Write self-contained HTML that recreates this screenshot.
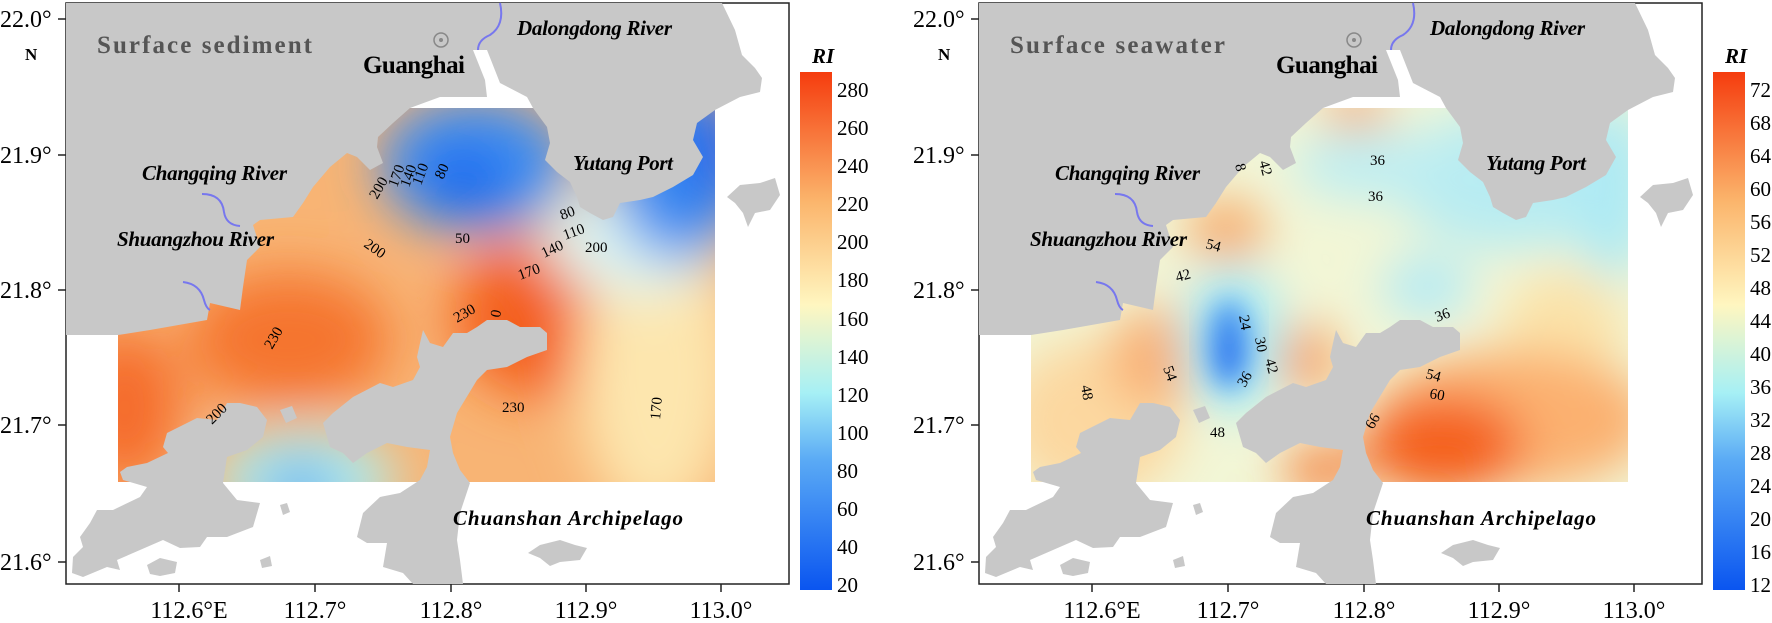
<!DOCTYPE html>
<html><head><meta charset="utf-8"><style>
body{margin:0;background:#fff}
svg{display:block;font-family:"Liberation Serif",serif}
.t{font-size:24px}
.it{font-style:italic;font-weight:bold;font-size:21px}
.b{font-weight:bold;font-size:25px}
.c{font-size:15px}
.cb{font-size:21px}
</style></head><body>
<svg width="1772" height="623" viewBox="0 0 1772 623" xmlns="http://www.w3.org/2000/svg">
<defs>
<filter id="bl" x="-30%" y="-30%" width="160%" height="160%"><feGaussianBlur stdDeviation="24"/></filter>
<filter id="bl2" x="-50%" y="-50%" width="200%" height="200%"><feGaussianBlur stdDeviation="14"/></filter>
<clipPath id="dr"><rect x="118" y="108" width="597" height="374"/></clipPath>
<linearGradient id="cb1" x1="0" y1="1" x2="0" y2="0">
<stop offset="0" stop-color="#0a55f0"/><stop offset="0.25" stop-color="#5aaaf5"/><stop offset="0.38" stop-color="#a6f0f5"/><stop offset="0.55" stop-color="#fff6c0"/><stop offset="0.75" stop-color="#fbb56c"/><stop offset="1" stop-color="#f53c0e"/></linearGradient>
<g id="land" fill="#c8c8c8">
<path d="M66,3 L722,3 L735,30 L742,55 L755,68 L762,78 L760,92 L740,97 L715,110 L697,123 L693,140 L703,157 L693,175 L673,187 L653,197 L640,200 L620,203 L613,217 L603,220 L590,213 L580,207 L577,197 L570,182 L557,172 L545,160 L550,143 L547,127 L533,108 L527,97 L500,83 L487,50 L473,50 L485,80 L487,97 L440,97 L410,108 L393,123 L378,137 L377,147 L383,163 L370,170 L357,157 L347,153 L330,167 L313,187 L303,203 L293,217 L260,220 L253,225 L260,247 L247,260 L243,287 L240,310 L210,303 L207,320 L150,330 L118,335 L66,335 Z"/>
<path d="M727,197 L740,185 L760,183 L775,178 L780,195 L770,210 L755,213 L748,227 L743,213 L735,203 Z"/>
<path d="M423,330 L420,343 L417,357 L420,367 L413,380 L393,387 L380,383 L353,397 L333,413 L323,423 L330,447 L343,453 L353,463 L367,453 L387,443 L407,447 L430,450 L427,467 L420,480 L400,493 L380,497 L363,513 L357,537 L367,543 L387,543 L383,567 L403,573 L413,584 L463,584 L460,560 L457,540 L460,513 L470,483 L460,470 L453,453 L450,437 L457,413 L477,380 L487,370 L507,367 L527,357 L547,350 L547,333 L540,327 L520,327 L507,320 L487,320 L477,327 L467,333 L453,333 L443,347 L430,343 Z"/>
<path d="M227,403 L217,420 L197,418 L167,433 L163,447 L168,453 L147,463 L127,467 L120,472 L123,480 L147,487 L140,497 L113,510 L97,510 L90,523 L80,537 L83,547 L73,557 L72,573 L83,577 L107,567 L120,570 L117,560 L140,550 L163,540 L180,548 L200,547 L207,537 L227,537 L253,527 L260,503 L237,500 L223,483 L227,457 L247,450 L263,437 L267,420 L257,407 L240,403 Z"/>
<path d="M147,565 L160,558 L177,562 L175,573 L160,576 L150,574 Z"/>
<path d="M280,505 L287,503 L290,512 L283,515 Z"/>
<path d="M280,410 L292,406 L297,418 L286,423 Z"/>
<path d="M260,560 L270,556 L272,566 L262,568 Z"/>
<path d="M528,553 L540,545 L560,540 L575,545 L587,548 L580,560 L560,562 L550,566 L540,558 Z"/>
</g>
<g id="deco" fill="none">
<path d="M500,3 Q505,25 490,35 Q478,40 478,50" stroke="#7777ee" stroke-width="2"/>
<path d="M202,194 Q222,194 224,212 Q226,225 240,226" stroke="#7777ee" stroke-width="2"/>
<path d="M183,282 Q200,284 204,300 Q206,308 210,310" stroke="#7777ee" stroke-width="2"/>
<circle cx="441" cy="40" r="7" stroke="#888" stroke-width="1.5"/><circle cx="441" cy="40" r="2" fill="#888"/>
</g>
</defs>

<!-- LEFT PANEL -->
<rect x="66" y="3" width="723" height="581" fill="#fff" stroke="#222" stroke-width="1.5"/>
<g clip-path="url(#dr)">
<rect x="118" y="108" width="597" height="374" fill="#f8b474"/>
<g filter="url(#bl)" transform="scale(1.1325)">
<ellipse cx="255" cy="300" rx="90" ry="60" fill="#f5742e"/>
<ellipse cx="480" cy="280" rx="80" ry="70" fill="#f45e1c"/>
<ellipse cx="110" cy="360" rx="50" ry="70" fill="#f56c2a"/>
<ellipse cx="580" cy="330" rx="70" ry="130" fill="#fde6ae"/>
<ellipse cx="560" cy="210" rx="80" ry="50" fill="#dff6f0"/>
<ellipse cx="420" cy="145" rx="85" ry="60" fill="#3d8ef2"/>
<ellipse cx="410" cy="160" rx="40" ry="30" fill="#1466ee"/>
<ellipse cx="600" cy="150" rx="60" ry="80" fill="#3b8bf0"/>
<ellipse cx="630" cy="130" rx="25" ry="50" fill="#1a5ff0"/>
<ellipse cx="270" cy="425" rx="80" ry="45" fill="#aef0f2"/>
<ellipse cx="265" cy="432" rx="35" ry="20" fill="#4a9af2"/>
</g>
</g>
<use href="#land"/>
<use href="#deco"/>
<text x="97" y="53" class="b" fill="#555" textLength="215">Surface sediment</text>
<text x="363" y="73" class="b" textLength="102">Guanghai</text>
<text x="517" y="35" class="it" textLength="155">Dalongdong River</text>
<text x="573" y="170" class="it" textLength="100">Yutang Port</text>
<text x="142" y="180" class="it" textLength="145">Changqing River</text>
<text x="117" y="246" class="it" textLength="157">Shuangzhou River</text>
<text x="453" y="525" class="it" textLength="230">Chuanshan Archipelago</text>
<g class="c">
<text transform="translate(377,200) rotate(-60)">200</text>
<text transform="translate(397,188) rotate(-70)">170</text>
<text transform="translate(409,188) rotate(-70)">140</text>
<text transform="translate(421,186) rotate(-70)">110</text>
<text transform="translate(443,180) rotate(-65)">80</text>
<text transform="translate(363,246) rotate(35)">200</text>
<text x="455" y="243">50</text>
<text x="562" y="220" transform="rotate(-20,562,220)">80</text>
<text x="565" y="240" transform="rotate(-20,565,240)">110</text>
<text x="544" y="258" transform="rotate(-25,544,258)">140</text>
<text x="520" y="280" transform="rotate(-20,520,280)">170</text>
<text x="585" y="252">200</text>
<text transform="translate(272,350) rotate(-60)">230</text>
<text transform="translate(457,323) rotate(-30)">230</text>
<text x="500" y="318" transform="rotate(-80,500,318)">0</text>
<text x="502" y="412">230</text>
<text transform="translate(660,420) rotate(-85)">170</text>
<text transform="translate(212,425) rotate(-45)">200</text>
</g>
<g class="t">
<text x="0" y="27">22.0°</text><text x="25" y="60" font-size="17" font-weight="bold">N</text>
<text x="0" y="163">21.9°</text><text x="0" y="298">21.8°</text>
<text x="0" y="433">21.7°</text><text x="0" y="570">21.6°</text>
<text x="189" y="618" text-anchor="middle">112.6°E</text><text x="315" y="618" text-anchor="middle">112.7°</text>
<text x="451" y="618" text-anchor="middle">112.8°</text><text x="586" y="618" text-anchor="middle">112.9°</text>
<text x="721" y="618" text-anchor="middle">113.0°</text>
</g>
<g stroke="#222" stroke-width="1.5">
<path d="M66,19h-8M66,155h-8M66,290h-8M66,425h-8M66,562h-8M179,584v8M315,584v8M451,584v8M586,584v8M721,584v8"/>
</g>
<rect x="800" y="72" width="32" height="518" fill="url(#cb1)"/>
<text x="812" y="63" class="it" font-size="22">RI</text>
<g class="cb">
<text x="837" y="97">280</text><text x="837" y="135">260</text><text x="837" y="173">240</text><text x="837" y="211">220</text>
<text x="837" y="249">200</text><text x="837" y="287">180</text><text x="837" y="326">160</text><text x="837" y="364">140</text>
<text x="837" y="402">120</text><text x="837" y="440">100</text><text x="837" y="478">80</text><text x="837" y="516">60</text>
<text x="837" y="554">40</text><text x="837" y="592">20</text>
</g>

<!-- RIGHT PANEL -->
<g transform="translate(913,0)">
<rect x="66" y="3" width="723" height="581" fill="#fff" stroke="#222" stroke-width="1.5"/>
<g clip-path="url(#dr)">
<rect x="118" y="108" width="597" height="374" fill="#f2f6d6"/>
<g filter="url(#bl)">
<ellipse cx="180" cy="420" rx="90" ry="80" fill="#fcd8a0"/>
<ellipse cx="600" cy="180" rx="120" ry="70" fill="#b8ecf2"/>
<ellipse cx="700" cy="190" rx="40" ry="90" fill="#aeeaf4"/>
<ellipse cx="460" cy="165" rx="80" ry="35" fill="#bfeef2"/>
<ellipse cx="514" cy="287" rx="45" ry="30" fill="#b2eaf6"/>
<ellipse cx="650" cy="330" rx="60" ry="60" fill="#fbe2a8"/>
<ellipse cx="600" cy="420" rx="140" ry="70" fill="#fbb070"/>
<ellipse cx="530" cy="445" rx="80" ry="50" fill="#f5601e"/>
<ellipse cx="410" cy="470" rx="40" ry="25" fill="#f6803c"/>
<ellipse cx="241" cy="357" rx="45" ry="50" fill="#f9b074"/>
<ellipse cx="395" cy="360" rx="30" ry="35" fill="#f8a060"/>
<ellipse cx="313" cy="230" rx="40" ry="30" fill="#f8a868"/>
<ellipse cx="443" cy="110" rx="35" ry="18" fill="#f8a060"/>
<ellipse cx="320" cy="340" rx="50" ry="75" fill="#a8ecf6"/>
</g>
<g filter="url(#bl2)">
<ellipse cx="316" cy="345" rx="20" ry="45" fill="#3f8cf0"/>
<ellipse cx="316" cy="355" rx="8" ry="18" fill="#1a62ee"/>
</g>
</g>
<use href="#land"/>
<use href="#deco"/>
<text x="97" y="53" class="b" fill="#555" textLength="215">Surface seawater</text>
<text x="363" y="73" class="b" textLength="102">Guanghai</text>
<text x="517" y="35" class="it" textLength="155">Dalongdong River</text>
<text x="573" y="170" class="it" textLength="100">Yutang Port</text>
<text x="142" y="180" class="it" textLength="145">Changqing River</text>
<text x="117" y="246" class="it" textLength="157">Shuangzhou River</text>
<text x="453" y="525" class="it" textLength="230">Chuanshan Archipelago</text>
<g class="c">
<text x="457" y="165">36</text><text x="455" y="201">36</text>
<text transform="translate(346,162) rotate(75)">42</text>
<text transform="translate(322,165) rotate(75)">8</text>
<text transform="translate(292,248) rotate(15)">54</text>
<text transform="translate(264,282) rotate(-15)">42</text>
<text transform="translate(326,316) rotate(80)">24</text>
<text transform="translate(342,338) rotate(80)">30</text>
<text transform="translate(352,360) rotate(75)">42</text>
<text transform="translate(332,388) rotate(-60)">36</text>
<text transform="translate(250,368) rotate(70)">54</text>
<text transform="translate(168,386) rotate(80)">48</text>
<text x="297" y="437">48</text>
<text transform="translate(524,322) rotate(-20)">36</text>
<text transform="translate(512,378) rotate(15)">54</text>
<text transform="translate(516,398) rotate(10)">60</text>
<text transform="translate(460,430) rotate(-60)">66</text>
</g>
<g class="t">
<text x="0" y="27">22.0°</text><text x="25" y="60" font-size="17" font-weight="bold">N</text>
<text x="0" y="163">21.9°</text><text x="0" y="298">21.8°</text>
<text x="0" y="433">21.7°</text><text x="0" y="570">21.6°</text>
<text x="189" y="618" text-anchor="middle">112.6°E</text><text x="315" y="618" text-anchor="middle">112.7°</text>
<text x="451" y="618" text-anchor="middle">112.8°</text><text x="586" y="618" text-anchor="middle">112.9°</text>
<text x="721" y="618" text-anchor="middle">113.0°</text>
</g>
<g stroke="#222" stroke-width="1.5">
<path d="M66,19h-8M66,155h-8M66,290h-8M66,425h-8M66,562h-8M179,584v8M315,584v8M451,584v8M586,584v8M721,584v8"/>
</g>
<rect x="800" y="72" width="32" height="518" fill="url(#cb1)"/>
<text x="812" y="63" class="it" font-size="22">RI</text>
<g class="cb">
<text x="837" y="97">72</text><text x="837" y="130">68</text><text x="837" y="163">64</text><text x="837" y="196">60</text>
<text x="837" y="229">56</text><text x="837" y="262">52</text><text x="837" y="295">48</text><text x="837" y="328">44</text>
<text x="837" y="361">40</text><text x="837" y="394">36</text><text x="837" y="427">32</text><text x="837" y="460">28</text>
<text x="837" y="493">24</text><text x="837" y="526">20</text><text x="837" y="559">16</text><text x="837" y="592">12</text>
</g>
</g>
</svg>
</body></html>
